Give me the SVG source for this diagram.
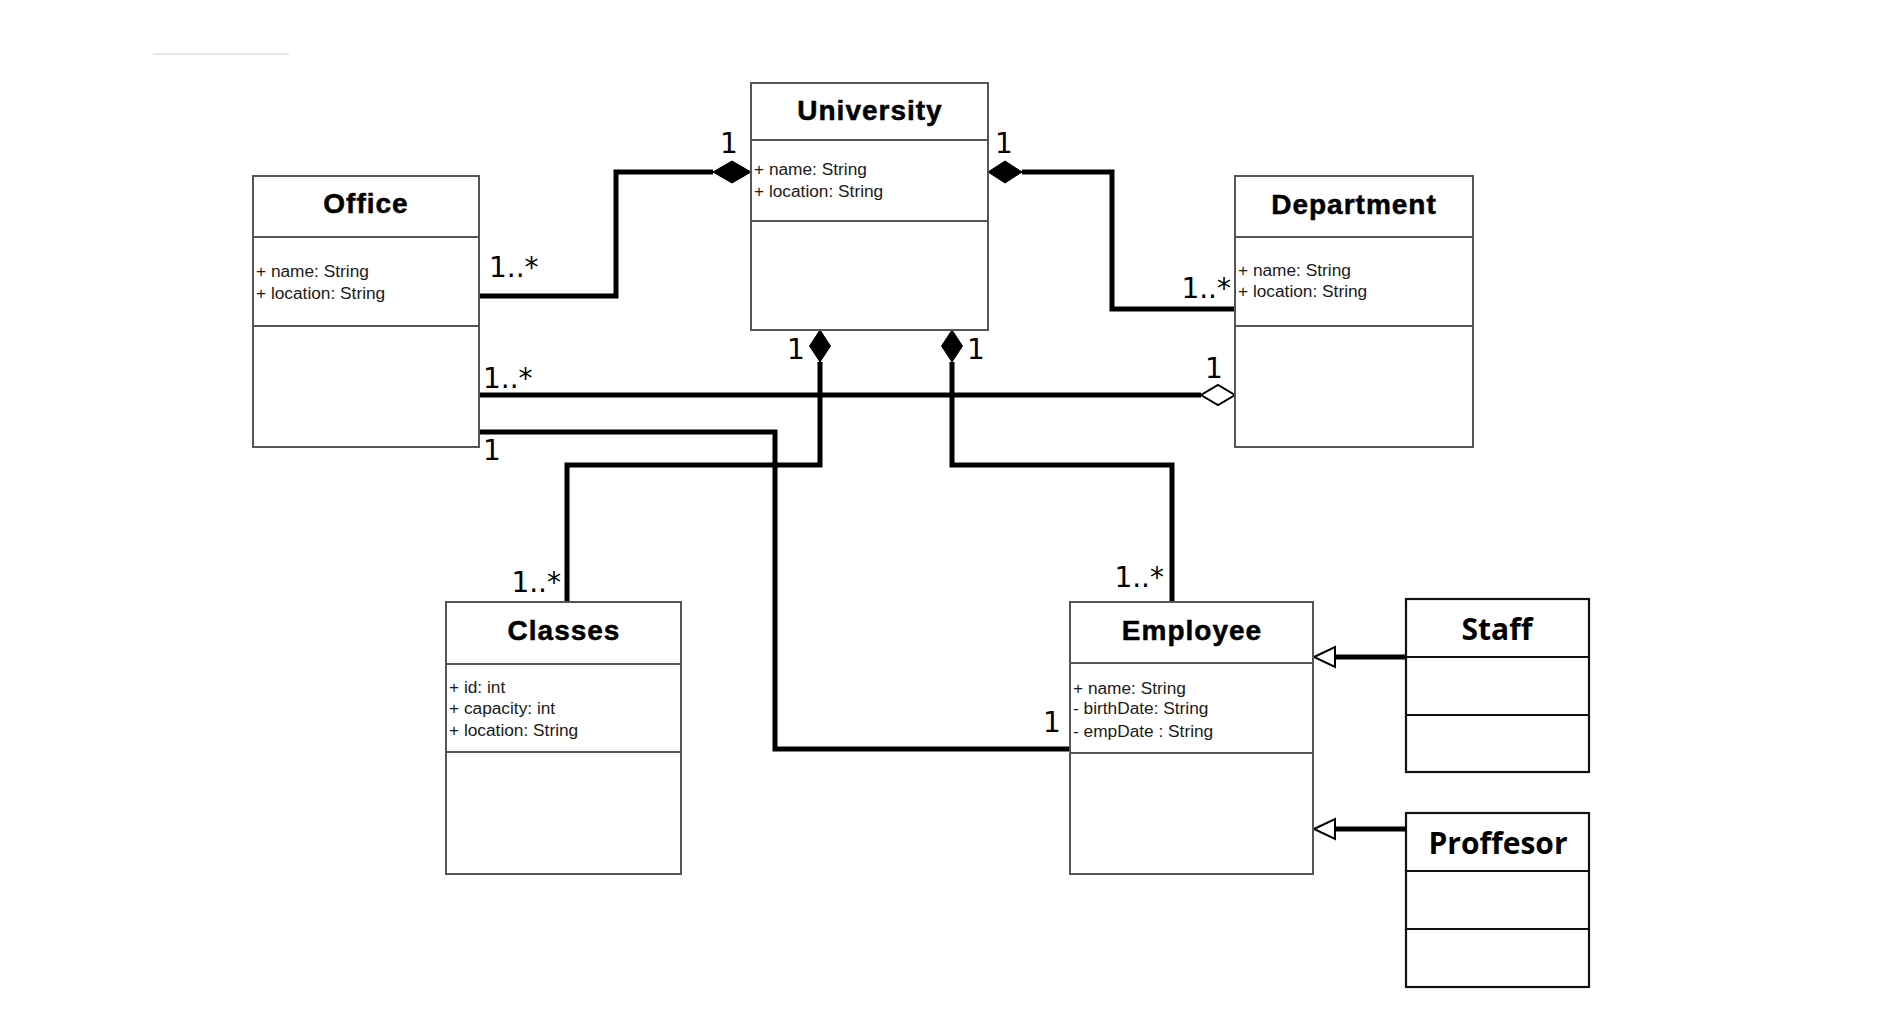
<svg xmlns="http://www.w3.org/2000/svg" width="1879" height="1009" viewBox="0 0 1879 1009">
<style>
.box{fill:#fff;stroke:#555;stroke-width:2}
.box2{fill:#fff;stroke:#111;stroke-width:2.2}
.div{stroke:#555;stroke-width:2}
.div2{stroke:#111;stroke-width:2.2}
.title{font-family:"Liberation Sans",Arial,sans-serif;font-weight:bold;font-size:28px;letter-spacing:1px;fill:#000;stroke:#000;stroke-width:0.5;text-anchor:middle}
.title2{font-family:"Open Sans",sans-serif;font-weight:bold;font-size:30px;fill:#000;text-anchor:middle}
.attr{font-family:"Liberation Sans",Arial,sans-serif;font-size:17.3px;fill:#1a1a1a}
.lbl{font-family:"DejaVu Sans",sans-serif;font-size:28px;fill:#000}
.conn{fill:none;stroke:#000;stroke-width:5}
.dfill{fill:#000;stroke:#000;stroke-width:1}
.dhollow{fill:#fff;stroke:#000;stroke-width:2}
</style>
<rect width="1879" height="1009" fill="#fff"/>
<line x1="153" y1="54" x2="289" y2="54" stroke="#e6e6e6" stroke-width="2"/>

<g id="connectors">
  <path class="conn" d="M479,296 H616 V172 H713"/>
  <path class="conn" d="M1022,172 H1112 V309 H1235"/>
  <path class="conn" d="M479,395 H1201"/>
  <path class="conn" d="M479,432 H775 V749 H1070"/>
  <path class="conn" d="M820,362 V465 H567 V602"/>
  <path class="conn" d="M952,362 V465 H1172 V602"/>
  <path class="conn" d="M1335,657 H1406"/>
  <path class="conn" d="M1335,829 H1406"/>
  <polygon class="dfill" points="751,172 732,161 713,172 732,183"/>
  <polygon class="dfill" points="988,172 1005,161 1022,172 1005,183"/>
  <polygon class="dfill" points="820,330 830.5,346 820,362 809.5,346"/>
  <polygon class="dfill" points="952,330 962.5,346 952,362 941.5,346"/>
  <polygon class="dhollow" points="1235,395 1218,385 1201,395 1218,405"/>
  <polygon class="dhollow" points="1314,657 1335,647 1335,667"/>
  <polygon class="dhollow" points="1314,829 1335,819 1335,839"/>
  <text class="lbl" x="729" y="153" text-anchor="middle">1</text>
  <text class="lbl" x="1004" y="153" text-anchor="middle">1</text>
  <text class="lbl" x="489" y="277">1..*</text>
  <text class="lbl" x="1231" y="298" text-anchor="end">1..*</text>
  <text class="lbl" x="483" y="388">1..*</text>
  <text class="lbl" x="1214" y="378" text-anchor="middle">1</text>
  <text class="lbl" x="492" y="460" text-anchor="middle">1</text>
  <text class="lbl" x="796" y="359" text-anchor="middle">1</text>
  <text class="lbl" x="976" y="359" text-anchor="middle">1</text>
  <text class="lbl" x="561" y="592" text-anchor="end">1..*</text>
  <text class="lbl" x="1164" y="587" text-anchor="end">1..*</text>
  <text class="lbl" x="1052" y="732" text-anchor="middle">1</text>
</g>

<g id="university">
  <rect class="box" x="751" y="83" width="237" height="247"/>
  <line class="div" x1="751" y1="140" x2="988" y2="140"/>
  <line class="div" x1="751" y1="221" x2="988" y2="221"/>
  <text class="title" x="870" y="120">University</text>
  <text class="attr" x="754" y="175">+ name: String</text>
  <text class="attr" x="754" y="197">+ location: String</text>
</g>

<g id="office">
  <rect class="box" x="253" y="176" width="226" height="271"/>
  <line class="div" x1="253" y1="237" x2="479" y2="237"/>
  <line class="div" x1="253" y1="326" x2="479" y2="326"/>
  <text class="title" x="366" y="213">Office</text>
  <text class="attr" x="256" y="277">+ name: String</text>
  <text class="attr" x="256" y="299">+ location: String</text>
</g>

<g id="department">
  <rect class="box" x="1235" y="176" width="238" height="271"/>
  <line class="div" x1="1235" y1="237" x2="1473" y2="237"/>
  <line class="div" x1="1235" y1="326" x2="1473" y2="326"/>
  <text class="title" x="1354" y="214">Department</text>
  <text class="attr" x="1238" y="276">+ name: String</text>
  <text class="attr" x="1238" y="297">+ location: String</text>
</g>

<g id="classes">
  <rect class="box" x="446" y="602" width="235" height="272"/>
  <line class="div" x1="446" y1="664" x2="681" y2="664"/>
  <line class="div" x1="446" y1="752" x2="681" y2="752"/>
  <text class="title" x="564" y="640">Classes</text>
  <text class="attr" x="449" y="693">+ id: int</text>
  <text class="attr" x="449" y="714">+ capacity: int</text>
  <text class="attr" x="449" y="736">+ location: String</text>
</g>

<g id="employee">
  <rect class="box" x="1070" y="602" width="243" height="272"/>
  <line class="div" x1="1070" y1="663" x2="1313" y2="663"/>
  <line class="div" x1="1070" y1="753" x2="1313" y2="753"/>
  <text class="title" x="1192" y="640">Employee</text>
  <text class="attr" x="1073" y="694">+ name: String</text>
  <text class="attr" x="1073" y="714">- birthDate: String</text>
  <text class="attr" x="1073" y="737">- empDate : String</text>
</g>

<g id="staff">
  <rect class="box2" x="1406" y="599" width="183" height="173"/>
  <line class="div2" x1="1406" y1="657" x2="1589" y2="657"/>
  <line class="div2" x1="1406" y1="715" x2="1589" y2="715"/>
  <text class="title2" x="1497" y="640">Staff</text>
</g>

<g id="proffesor">
  <rect class="box2" x="1406" y="813" width="183" height="174"/>
  <line class="div2" x1="1406" y1="871" x2="1589" y2="871"/>
  <line class="div2" x1="1406" y1="929" x2="1589" y2="929"/>
  <text class="title2" x="1498" y="854">Proffesor</text>
</g>
</svg>
